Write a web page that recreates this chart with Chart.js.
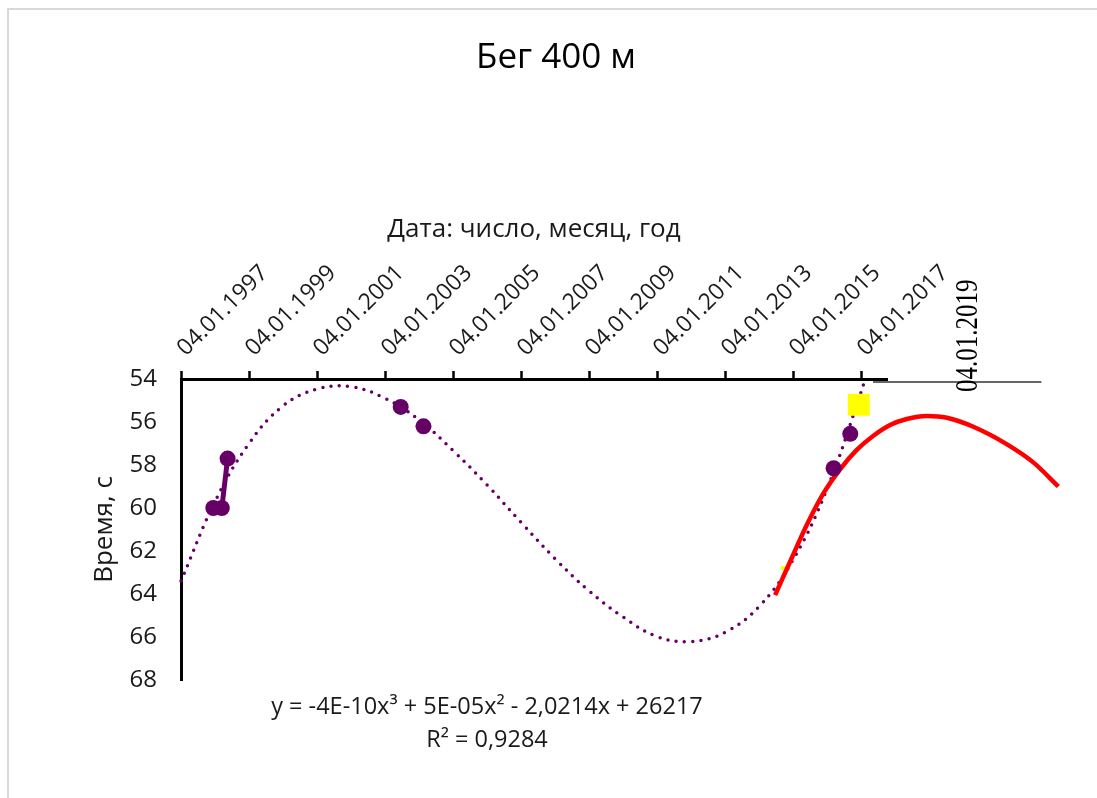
<!DOCTYPE html>
<html lang="ru">
<head>
<meta charset="UTF-8">
<title>Бег 400 м</title>
<style>
  html, body { margin: 0; padding: 0; background: #fff; overflow: hidden; }
  #wrap { position: relative; width: 1097px; height: 798px; }
  #frame { position: absolute; left: 7px; top: 8px; width: 1200px; height: 900px;
           border-left: 2px solid #d9d9d9; border-top: 2px solid #d9d9d9; pointer-events: none; }
</style>
</head>
<body>
<div id="wrap">
  <canvas id="chart" width="1097" height="798"></canvas>
  <div id="frame"></div>
</div>
<script src="https://cdn.jsdelivr.net/npm/chart.js"></script>
<script>
// x values are decimal years (tick 04.01.YYYY ~ YYYY.0), y values are seconds
const tickYears = [1997, 1999, 2001, 2003, 2005, 2007, 2009, 2011, 2013, 2015, 2017];
const tickLabels = ['04.01.1997', '04.01.1999', '04.01.2001', '04.01.2003', '04.01.2005', '04.01.2007',
                    '04.01.2009', '04.01.2011', '04.01.2013', '04.01.2015', '04.01.2017'];
const xMin = 1997, xMax = 2017.76;
const yMin = 54, yMax = 68;

// results joined by a line
const runDates1 = [1997.95, 1998.2, 1998.37];
const runTimes1 = [60.0, 60.0, 57.7];
// results, markers only
const runDates2 = [2003.46, 2004.13, 2016.19, 2016.68];
const runTimes2 = [55.3, 56.2, 58.15, 56.55];
// yellow marks
const goalDates = [2014.7, 2016.93];
const goalTimes = [62.8, 55.2];
// polynomial trend (dotted)
const trendDates = [1997, 1998, 1999, 2000, 2001, 2002, 2003, 2004, 2005, 2006, 2007,
                    2008, 2009, 2010, 2011, 2012, 2013, 2014, 2015, 2016, 2017, 2017.1];
const trendTimes = [63.4, 59.7, 57.0, 55.25, 54.47, 54.36, 54.9, 55.9, 57.33, 58.93, 60.67,
                    62.36, 63.86, 65.07, 65.98, 66.21, 65.78, 64.58, 62.4, 59.1, 54.6, 54.1];
// red curve
const forecastDates = [2014.47, 2014.91, 2015.4, 2015.89, 2016.38, 2016.87, 2017.36, 2017.85,
                       2018.34, 2018.93, 2019.52, 2020.3, 2021.29, 2022.07, 2022.8];
const forecastTimes = [64.05, 62.5, 60.79, 59.32, 58.2, 57.3, 56.64, 56.14,
                       55.86, 55.72, 55.8, 56.22, 57.04, 57.89, 59.0];

const chartTitle = 'Бег 400 м';
const xTitle = 'Дата: число, месяц, год';
const yTitle = 'Время, с';
const eqLines = ['y = -4E-10x³ + 5E-05x² - 2,0214x + 26217', 'R² = 0,9284'];
const extraLabel = '04.01.2019';

const PURPLE = '#660066';
const FONT = '"Open Sans", sans-serif';
const pts = (xs, ys) => xs.map((x, i) => ({ x: x, y: ys[i] }));

// title, equation and the hand-drawn axis extension
const overlay = {
  id: 'overlay',
  afterDraw(chart) {
    const ctx = chart.ctx, xs = chart.scales.x, ys = chart.scales.y;
    ctx.save();
    ctx.fillStyle = '#000';
    ctx.textAlign = 'center';
    ctx.textBaseline = 'middle';
    ctx.font = '35px ' + FONT;
    ctx.fillText(chartTitle, 556, 58);

    ctx.font = '23.5px ' + FONT;
    ctx.fillStyle = '#1a1a1a';
    ctx.fillText(eqLines[0], 487, 707);
    ctx.fillText(eqLines[1], 487, 740);

    const ay = ys.getPixelForValue(yMin) + 3;
    ctx.strokeStyle = '#333';
    ctx.lineWidth = 1.5;
    ctx.beginPath();
    ctx.moveTo(xs.getPixelForValue(2017.35), ay);
    ctx.lineTo(xs.getPixelForValue(2022.3), ay);
    ctx.stroke();

    ctx.translate(xs.getPixelForValue(2020.41), ay + 10);
    ctx.rotate(-Math.PI / 2);
    ctx.scale(1, 1.25);
    ctx.font = '25px "Liberation Serif", serif';
    ctx.fillStyle = '#000';
    ctx.textAlign = 'left';
    ctx.textBaseline = 'alphabetic';
    ctx.fillText(extraLabel, 0, 0);
    ctx.restore();
  }
};

new Chart(document.getElementById('chart'), {
  type: 'scatter',
  data: {
    datasets: [
      { data: pts(runDates2, runTimes2), showLine: false, pointRadius: 8,
        pointBackgroundColor: PURPLE, pointBorderWidth: 0 },
      { data: pts(runDates1, runTimes1), showLine: true, borderColor: PURPLE, borderWidth: 5,
        pointRadius: 8, pointBackgroundColor: PURPLE, pointBorderWidth: 0 },
      { data: pts(forecastDates, forecastTimes), showLine: true, borderColor: '#ff0000', borderWidth: 4.5,
        pointRadius: 0, cubicInterpolationMode: 'monotone', clip: false },
      { data: pts(goalDates, goalTimes), showLine: false, pointStyle: 'rect', pointRadius: [3, 15.5],
        pointBackgroundColor: '#ffff00', pointBorderWidth: 0 },
      { data: pts(trendDates, trendTimes), showLine: true, borderColor: PURPLE, borderWidth: 3.5,
        borderDash: [0, 8.3], borderCapStyle: 'round', pointRadius: 0, tension: 0.4, clip: false }
    ]
  },
  options: {
    responsive: false,
    animation: false,
    events: [],
    layout: { padding: { left: 0, top: 0, right: 210, bottom: 118 } },
    plugins: { legend: { display: false }, tooltip: { enabled: false } },
    scales: {
      x: {
        type: 'linear',
        position: 'top',
        bounds: 'data',
        // range set here (not via min/max) so the red curve past the axis end is still drawn
        afterDataLimits: (s) => { s.min = xMin; s.max = xMax; },
        afterFit: (s) => { s.height = 379; },
        afterBuildTicks: (s) => { s.ticks = tickYears.map(v => ({ value: v })); },
        ticks: {
          autoSkip: false,
          minRotation: 45,
          maxRotation: 45,
          padding: 9,
          labelOffset: 20,
          color: '#1a1a1a',
          font: { family: FONT, size: 23 },
          callback: (v, i) => tickLabels[i]
        },
        grid: { drawOnChartArea: false, drawTicks: true, tickLength: 8, tickWidth: 2.5, tickColor: '#000' },
        border: { color: '#000', width: 3 },
        title: { display: true, text: xTitle, color: '#1a1a1a',
                 font: { family: FONT, size: 26 }, padding: { top: 214, bottom: 0 } }
      },
      y: {
        reverse: true,
        min: yMin,
        max: yMax,
        afterFit: (s) => { s.width = 181; },
        ticks: { stepSize: 2, padding: 24, color: '#1a1a1a', font: { family: FONT, size: 24 } },
        grid: { drawOnChartArea: false, drawTicks: false },
        border: { color: '#000', width: 3 },
        title: { display: true, text: yTitle, color: '#1a1a1a',
                 font: { family: FONT, size: 26 }, padding: { top: 89, bottom: 0 } }
      }
    }
  },
  plugins: [overlay]
});
</script>
</body>
</html>
